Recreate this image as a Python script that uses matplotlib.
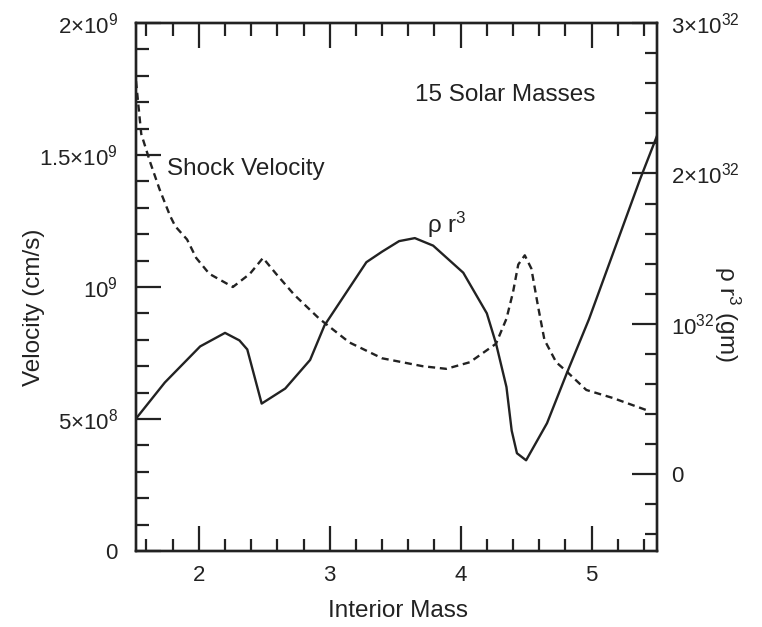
import matplotlib
matplotlib.use("Agg")
import matplotlib.pyplot as plt
from matplotlib.ticker import FixedLocator, FixedFormatter, MultipleLocator

plt.rcParams['font.family'] = ['Liberation Sans', 'DejaVu Sans']
plt.rcParams['mathtext.fontset'] = 'custom'
plt.rcParams['mathtext.rm'] = 'Liberation Sans'
plt.rcParams['mathtext.it'] = 'Liberation Sans:italic'
plt.rcParams['mathtext.bf'] = 'Liberation Sans:bold'

# Shock velocity (units of 1e9 cm/s) vs interior mass
vel_mass = [1.52, 1.56, 1.63, 1.70, 1.78, 1.82, 1.91, 1.98, 2.08, 2.26, 2.39, 2.49,
            2.59, 2.73, 2.92, 3.15, 3.40, 3.71, 3.89, 4.07, 4.27, 4.35, 4.40, 4.44,
            4.49, 4.54, 4.59, 4.64, 4.73, 4.81, 4.96, 5.16, 5.44]
velocity = [1.78, 1.58, 1.47, 1.37, 1.27, 1.23, 1.18, 1.11, 1.05, 1.00, 1.05, 1.11,
            1.05, 0.97, 0.88, 0.79, 0.73, 0.70, 0.69, 0.715, 0.785, 0.88, 0.98, 1.085,
            1.12, 1.07, 0.93, 0.80, 0.715, 0.68, 0.61, 0.58, 0.53]

# rho r^3 (units of 1e32 g) vs interior mass
rho_mass = [1.52, 1.74, 2.01, 2.20, 2.31, 2.37, 2.48, 2.66, 2.85, 2.96, 3.28, 3.40,
            3.53, 3.65, 3.79, 4.02, 4.20, 4.27, 4.35, 4.39, 4.43, 4.50, 4.66, 4.81,
            4.98, 5.37, 5.50]
rho_r3 = [0.37, 0.61, 0.85, 0.94, 0.89, 0.83, 0.47, 0.57, 0.76, 0.99, 1.41, 1.48,
          1.55, 1.57, 1.52, 1.34, 1.07, 0.87, 0.58, 0.29, 0.14, 0.093, 0.34, 0.67,
          1.03, 1.96, 2.25]

x_ticks = [2, 3, 4, 5]
x_tick_labels = ['2', '3', '4', '5']
left_ticks = [0, 0.5, 1.0, 1.5, 2.0]
left_tick_labels = ['0', r'$\mathregular{5{\times}10^{8}}$', r'$\mathregular{10^{9}}$',
                    r'$\mathregular{1.5{\times}10^{9}}$', r'$\mathregular{2{\times}10^{9}}$']
right_ticks = [0, 1, 2, 3]
right_tick_labels = ['0', r'$\mathregular{10^{32}}$', r'$\mathregular{2{\times}10^{32}}$',
                     r'$\mathregular{3{\times}10^{32}}$']

ink = '#222222'
fs = 17.5
tfs = 16

fig = plt.figure(figsize=(7.62, 6.27), dpi=100)
ax = fig.add_axes([136/762, 1 - 551/627, (657-136)/762, (551-23)/627])
ax2 = ax.twinx()

ax.plot(vel_mass, velocity, color=ink, lw=1.7, linestyle=(0, (3, 2)))
ax2.plot(rho_mass, rho_r3, color=ink, lw=1.7)

ax.set_xlim(1.52, 5.5)
ax.set_ylim(0, 2.0)
ax2.set_ylim(-0.51, 3.0)

ax.xaxis.set_major_locator(FixedLocator(x_ticks))
ax.xaxis.set_major_formatter(FixedFormatter(x_tick_labels))
ax.xaxis.set_minor_locator(MultipleLocator(0.2))
ax.yaxis.set_major_locator(FixedLocator(left_ticks))
ax.yaxis.set_major_formatter(FixedFormatter(left_tick_labels))
ax.yaxis.set_minor_locator(MultipleLocator(0.1))
ax2.yaxis.set_major_locator(FixedLocator(right_ticks))
ax2.yaxis.set_major_formatter(FixedFormatter(right_tick_labels))
ax2.yaxis.set_minor_locator(MultipleLocator(0.2))

for a in (ax, ax2):
    for s in a.spines.values():
        s.set_linewidth(1.7)
        s.set_color(ink)

ax.tick_params(axis='x', which='both', direction='in', top=True, bottom=True,
               color=ink, width=1.6, labelsize=tfs, labelcolor=ink, pad=10)
ax.tick_params(axis='x', which='major', length=18)
ax.tick_params(axis='x', which='minor', length=9)
ax.tick_params(axis='y', which='both', direction='in', left=True, right=False,
               color=ink, width=1.6, labelsize=tfs, labelcolor=ink, pad=13)
ax.tick_params(axis='y', which='major', length=18)
ax.tick_params(axis='y', which='minor', length=9)
ax2.tick_params(axis='y', which='both', direction='in', right=True, left=False,
                color=ink, width=1.6, labelsize=tfs, labelcolor=ink, pad=10)
ax2.tick_params(axis='y', which='major', length=18)
ax2.tick_params(axis='y', which='minor', length=9)

ax.set_xlabel('Interior Mass', fontsize=fs, color=ink)
ax.xaxis.set_label_coords(0.502, -0.093)
ax.set_ylabel('Velocity (cm/s)', fontsize=fs, color=ink)
ax.yaxis.set_label_coords(-0.175, 0.462)
ax2.set_ylabel(r'$\mathregular{ρ\ r^{3}}$ (gm)', fontsize=fs, color=ink, rotation=270, va='center')
ax2.yaxis.set_label_coords(1.135, 0.449)

ax.text(3.65, 1.727, '15 Solar Masses', fontsize=fs, color=ink, ha='left', va='center')
ax.text(1.756, 1.446, 'Shock Velocity', fontsize=fs, color=ink, ha='left', va='center')
ax.text(3.74, 1.235, r'$\mathregular{ρ\ r^{3}}$', fontsize=fs, color=ink, ha='left', va='center')

fig.savefig('out.png', dpi=100)
